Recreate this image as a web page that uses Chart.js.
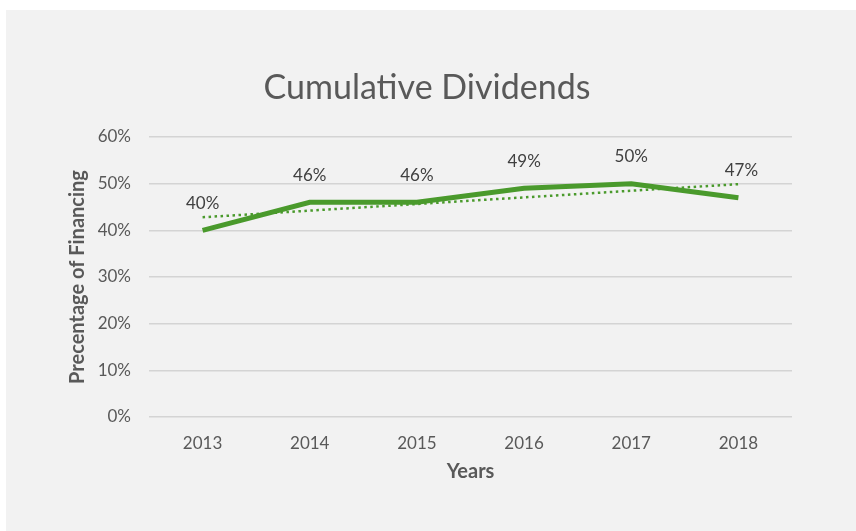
<!DOCTYPE html>
<html>
<head>
<meta charset="utf-8">
<script src="https://cdn.jsdelivr.net/npm/chart.js@4"></script>
<style>
  html, body { margin: 0; padding: 0; background: #ffffff; }
  #wrap { position: absolute; left: 6px; top: 10px; width: 850px; height: 521px; background: #f2f2f2; }
</style>
</head>
<body>
<div id="wrap"><canvas id="chart"></canvas></div>
<script>
// 연도별 누적 배당 비율
const years = ["2013", "2014", "2015", "2016", "2017", "2018"];
const dividends = [40, 46, 46, 49, 50, 47];
// 추세선: 양 끝 값만 그림에서 읽음
const trend = [42.8, null, null, null, null, 49.9];
const yTicks = [0, 10, 20, 30, 40, 50, 60];

const green = "#4a9a2c";
const grey = "#595959";
const font = "Lato, 'Open Sans', sans-serif";

// 점 위에 값 표시
const valueLabels = {
    id: "valueLabels",
    afterDatasetsDraw(chart) {
        const ctx = chart.ctx;
        const meta = chart.getDatasetMeta(0);
        ctx.save();
        ctx.font = "17px " + font;
        ctx.fillStyle = "#404040";
        ctx.textAlign = "center";
        ctx.textBaseline = "middle";
        meta.data.forEach((pt, i) => {
            const dx = i === meta.data.length - 1 ? 3 : 0;
            ctx.fillText(dividends[i] + "%", pt.x + dx, pt.y - 27);
        });
        ctx.restore();
    }
};

new Chart(document.querySelector("#chart"), {
    type: "line",
    data: {
        labels: years,
        datasets: [{
            label: "Cumulative Dividends",
            data: dividends,
            borderColor: green,
            borderWidth: 5,
            pointRadius: 0,
            tension: 0
        }, {
            label: "Trend",
            data: trend,
            borderColor: green,
            borderWidth: 2.5,
            borderDash: [2.5, 3.5],
            pointRadius: 0,
            spanGaps: true
        }]
    },
    options: {
        responsive: true,
        maintainAspectRatio: false,
        animation: false,
        layout: { padding: { left: 56, right: 64, top: 0, bottom: 43 } },
        plugins: {
            legend: { display: false },
            tooltip: { enabled: false },
            title: {
                display: true,
                text: "Cumulative Dividends",
                color: grey,
                font: { family: font, size: 34, weight: "normal" },
                padding: { top: 57.6, bottom: 28.6 }
            }
        },
        scales: {
            x: {
                offset: true,
                grid: { display: false, drawTicks: false },
                border: { display: false },
                ticks: { color: grey, padding: 16, font: { family: font, size: 17 } },
                title: {
                    display: true, text: "Years", color: grey,
                    font: { family: font, size: 20, weight: "bold" }
                },
                afterFit: s => { s.height = 71; }
            },
            y: {
                min: yTicks[0],
                max: yTicks[yTicks.length - 1],
                afterBuildTicks: s => { s.ticks = yTicks.map(v => ({ value: v })); },
                grid: { color: "#d4d4d4", lineWidth: 1.5, drawTicks: false },
                border: { display: false },
                ticks: {
                    color: grey, padding: 18,
                    font: { family: font, size: 17 },
                    callback: v => v + "%"
                },
                title: {
                    display: true, text: "Precentage of Financing", color: grey,
                    font: { family: font, size: 20, weight: "bold" }
                },
                afterFit: s => { s.width = 87; }
            }
        }
    },
    plugins: [valueLabels]
});
</script>
</body>
</html>
